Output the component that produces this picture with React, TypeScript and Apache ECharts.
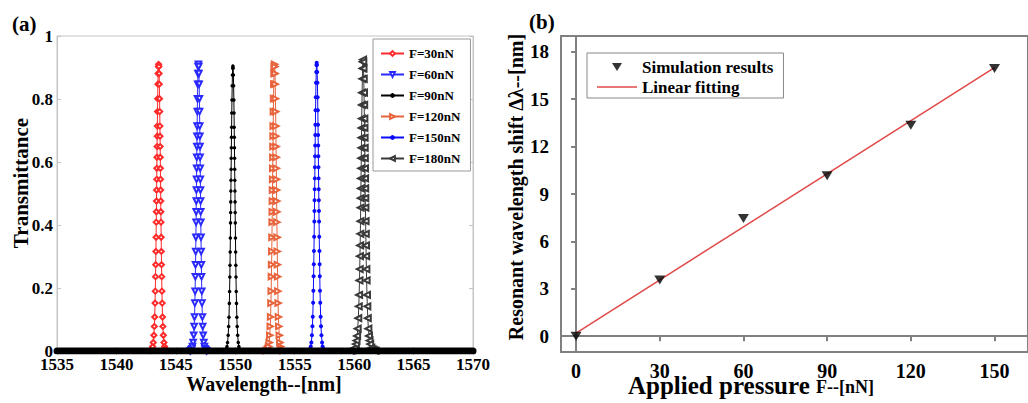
import React, { useEffect, useRef } from "react";
import * as echarts from "echarts";

// ---------- panel (a) data ----------
const FORCES = ["F=30nN", "F=60nN", "F=90nN", "F=120nN", "F=150nN", "F=180nN"];
const PEAK_CENTERS = [1543.55, 1546.9, 1549.8, 1553.3, 1556.85, 1560.75];
const PEAK_HEIGHTS = [0.91, 0.91, 0.905, 0.91, 0.915, 0.925];
const WL_START = 1535;
const WL_END = 1570;
// one side of a resonance, offset from the centre (nm) and transmittance
const OFFSETS = [0, 0.02, 0.04, 0.06, 0.08, 0.095, 0.11, 0.12, 0.13, 0.14, 0.15, 0.16, 0.17, 0.18, 0.19, 0.2, 0.215, 0.23, 0.245, 0.26, 0.28, 0.3, 0.33, 0.36, 0.4, 0.45, 0.5, 0.55, 0.6, 0.7];
const PROFILE = [0.91, 0.903, 0.881, 0.847, 0.801, 0.76, 0.714, 0.682, 0.649, 0.615, 0.58, 0.545, 0.511, 0.476, 0.442, 0.409, 0.361, 0.316, 0.274, 0.236, 0.19, 0.152, 0.108, 0.078, 0.05, 0.027, 0.014, 0.007, 0.004, 0.001];
const OFFSETS_180 = [0, 0.02, 0.04, 0.06, 0.08, 0.095, 0.11, 0.12, 0.13, 0.14, 0.15, 0.16, 0.17, 0.18, 0.19, 0.2, 0.215, 0.23, 0.245, 0.26, 0.28, 0.3, 0.33, 0.36, 0.4, 0.45, 0.5, 0.55, 0.6, 0.7, 0.8, 0.9, 1.05];
const PROFILE_180 = [0.925, 0.918, 0.897, 0.864, 0.82, 0.781, 0.738, 0.708, 0.677, 0.645, 0.612, 0.58, 0.548, 0.516, 0.485, 0.455, 0.412, 0.372, 0.335, 0.301, 0.26, 0.224, 0.178, 0.142, 0.104, 0.071, 0.048, 0.033, 0.022, 0.01, 0.005, 0.003, 0.001];
const WL_TICK_INTERVAL = 5;
const T_TICK_INTERVAL = 0.2;

// ---------- panel (b) data ----------
const PRESSURE = [0, 30, 60, 90, 120, 150];
const SHIFT = [0, 3.55, 7.45, 10.15, 13.35, 16.95];
const FIT_X = [0, 150];
const FIT_Y = [0.2, 17.0];
const B_X_TICKS = [0, 30, 60, 90, 120, 150];
const B_Y_TICKS = [0, 3, 6, 9, 12, 15, 18];

const SERIF = "'Liberation Serif', 'Times New Roman', serif";

const STYLES = [
  { color: "#ff2a2a", symbol: "emptyDiamond", size: 5, rotate: 0 },
  { color: "#2a2aff", symbol: "emptyTriangle", size: 5.5, rotate: 180 },
  { color: "#000000", symbol: "circle", size: 3.5, rotate: 0 },
  { color: "#e8643c", symbol: "emptyTriangle", size: 5.5, rotate: -90 },
  { color: "#0a0aff", symbol: "circle", size: 4, rotate: 0 },
  { color: "#3a3a3a", symbol: "emptyTriangle", size: 6, rotate: 90 },
];

const TRI_DOWN_ICON = "path://M-15,-1.5L-15,-1.5Z M25,9.5L25,9.5Z M0,0L10,0L5,8Z";
const LINE_ICON = "path://M0,0L40,0L40,1.5L0,1.5Z";

function peakData(i: number): any[] {
  const offs = i === 5 ? OFFSETS_180 : OFFSETS;
  const prof = i === 5 ? PROFILE_180 : PROFILE;
  const k = PEAK_HEIGHTS[i] / prof[0];
  const c = PEAK_CENTERS[i];
  const pts: any[] = [{ value: [WL_START, 0], symbol: "none" }];
  for (let j = offs.length - 1; j >= 1; j--) pts.push([c - offs[j], prof[j] * k]);
  pts.push([c, prof[0] * k]);
  for (let j = 1; j < offs.length; j++) pts.push([c + offs[j], prof[j] * k]);
  pts.push({ value: [WL_END, 0], symbol: "none" });
  return pts;
}

export default function App() {
  const ref = useRef<HTMLDivElement>(null);
  useEffect(() => {
    document.body.style.margin = "0";
    const chart = echarts.init(ref.current!, undefined, { renderer: "svg" });
    const lblA = { fontFamily: SERIF, fontWeight: "bold" as const, fontSize: 17, color: "#000" };
    const lblB = { fontFamily: SERIF, fontWeight: "bold" as const, fontSize: 19, color: "#000" };
    const grayA = { lineStyle: { color: "#c4c4c4", width: 1 } };
    const grayB = { lineStyle: { color: "#808080", width: 2 } };

    const peakSeries = FORCES.map((name, i) => ({
      name,
      type: "line",
      xAxisIndex: 0,
      yAxisIndex: 0,
      data: peakData(i),
      symbol: STYLES[i].symbol,
      symbolSize: STYLES[i].size,
      symbolRotate: STYLES[i].rotate,
      showAllSymbol: true,
      itemStyle: { color: STYLES[i].color, borderWidth: 1 },
      lineStyle: { color: STYLES[i].color, width: 1 },
      z: 2 + i,
    }));

    chart.setOption({
      animation: false,
      textStyle: { fontFamily: SERIF },
      grid: [
        { left: 57, top: 36, width: 416, height: 315, show: true, borderColor: "#c4c4c4", borderWidth: 1 },
        { left: 561, top: 36, width: 469, height: 316, show: true, borderColor: "#808080", borderWidth: 2 },
      ],
      legend: [
        {
          data: FORCES,
          orient: "vertical",
          left: 373,
          top: 39,
          itemWidth: 23,
          itemHeight: 6,
          itemGap: 8,
          padding: [8, 10, 6, 7],
          borderColor: "#999",
          borderWidth: 1,
          backgroundColor: "#fff",
          textStyle: { fontFamily: SERIF, fontWeight: "bold", fontSize: 13, color: "#000" },
        },
        {
          data: [
            { name: "Simulation results", icon: TRI_DOWN_ICON },
            { name: "Linear fitting", icon: LINE_ICON },
          ],
          orient: "vertical",
          left: 587,
          top: 53,
          itemWidth: 40,
          itemHeight: 11,
          itemGap: 2,
          padding: [5, 10, 2, 10],
          borderColor: "#888",
          borderWidth: 1,
          backgroundColor: "#fff",
          textStyle: { fontFamily: SERIF, fontWeight: "bold", fontSize: 17, lineHeight: 18, color: "#000" },
        },
      ],
      xAxis: [
        {
          gridIndex: 0, type: "value", min: WL_START, max: WL_END, interval: WL_TICK_INTERVAL,
          axisLine: grayA, axisTick: { inside: true, length: 4, ...grayA },
          axisLabel: { ...lblA, lineHeight: 15, margin: 6, formatter: (v: number) => String(v) }, splitLine: { show: false },
        },
        {
          gridIndex: 0, type: "value", position: "top", min: WL_START, max: WL_END, interval: WL_TICK_INTERVAL,
          axisLine: grayA, axisTick: { inside: true, length: 4, ...grayA },
          axisLabel: { show: false }, splitLine: { show: false },
        },
        {
          gridIndex: 1, type: "value", min: -5.4, max: 162,
          axisLine: grayB,
          axisTick: { length: 5, customValues: B_X_TICKS, ...grayB },
          axisLabel: { ...lblB, fontSize: 20, lineHeight: 16, margin: 11, customValues: B_X_TICKS },
          splitLine: { show: false },
        },
      ],
      yAxis: [
        {
          gridIndex: 0, type: "value", min: 0, max: 1, interval: T_TICK_INTERVAL,
          axisLine: grayA, axisTick: { inside: true, length: 4, ...grayA },
          axisLabel: { ...lblA, lineHeight: 14, margin: 4, formatter: (v: number) => String(+v.toFixed(1)) },
          splitLine: { show: false },
        },
        {
          gridIndex: 0, type: "value", position: "right", min: 0, max: 1, interval: T_TICK_INTERVAL,
          axisLine: grayA, axisTick: { inside: true, length: 4, ...grayA },
          axisLabel: { show: false }, splitLine: { show: false },
        },
        {
          gridIndex: 1, type: "value", min: -1, max: 19,
          axisLine: grayB,
          axisTick: { length: 5, customValues: B_Y_TICKS, ...grayB },
          axisLabel: { ...lblB, fontSize: 19, margin: 12, customValues: B_Y_TICKS },
          splitLine: { show: false },
        },
      ],
      series: [
        ...peakSeries,
        {
          name: "baseline",
          type: "line",
          xAxisIndex: 0,
          yAxisIndex: 0,
          data: [[WL_START, 0], [WL_END, 0]],
          showSymbol: false,
          silent: true,
          lineStyle: { color: "#000", width: 7, cap: "round" },
          z: 9,
        },
        {
          name: "Linear fitting",
          type: "line",
          xAxisIndex: 2,
          yAxisIndex: 2,
          data: FIT_X.map((x, i) => [x, FIT_Y[i]]),
          showSymbol: false,
          symbol: "none",
          lineStyle: { color: "#e04848", width: 1.5 },
          itemStyle: { color: "#e04848" },
          z: 3,
        },
        {
          name: "Simulation results",
          type: "scatter",
          xAxisIndex: 2,
          yAxisIndex: 2,
          data: PRESSURE.map((x, i) => [x, SHIFT[i]]),
          symbol: "triangle",
          symbolRotate: 180,
          symbolSize: [11, 9],
          itemStyle: { color: "#000" },
          z: 4,
        },
      ],
      graphic: [
        { type: "text", left: 12, top: 13, style: { text: "(a)", font: `bold 21px ${SERIF}`, fill: "#000" } },
        { type: "text", left: 529, top: 11, style: { text: "(b)", font: `bold 21px ${SERIF}`, fill: "#000" } },
        {
          type: "text", x: 21, y: 183, rotation: Math.PI / 2,
          style: { text: "Transmittance", font: `bold 21px ${SERIF}`, fill: "#000", align: "center", verticalAlign: "middle" },
        },
        {
          type: "text", x: 264, y: 384,
          style: { text: "Wavelength--[nm]", font: `bold 20px ${SERIF}`, fill: "#000", align: "center", verticalAlign: "middle", lineHeight: 18 },
        },
        {
          type: "text", x: 516, y: 187, rotation: Math.PI / 2,
          style: { text: "Resonant wavelength shift Δλ--[nm]", font: `bold 20px ${SERIF}`, fill: "#000", align: "center", verticalAlign: "middle" },
        },
        {
          type: "text", x: 628, y: 387,
          style: {
            text: "{a|Applied pressure }{b|F--[nN]}",
            align: "left",
            verticalAlign: "middle",
            rich: {
              a: { font: `bold 25px ${SERIF}`, fill: "#000", verticalAlign: "bottom", lineHeight: 22 },
              b: { font: `bold 18px ${SERIF}`, fill: "#000", verticalAlign: "bottom", lineHeight: 22, padding: [0, 0, 2, 0] },
            },
          },
        },
      ],
    });
    return () => chart.dispose();
  }, []);
  return <div ref={ref} style={{ position: "absolute", left: 0, top: 0, width: 1028, height: 403 }} />;
}
